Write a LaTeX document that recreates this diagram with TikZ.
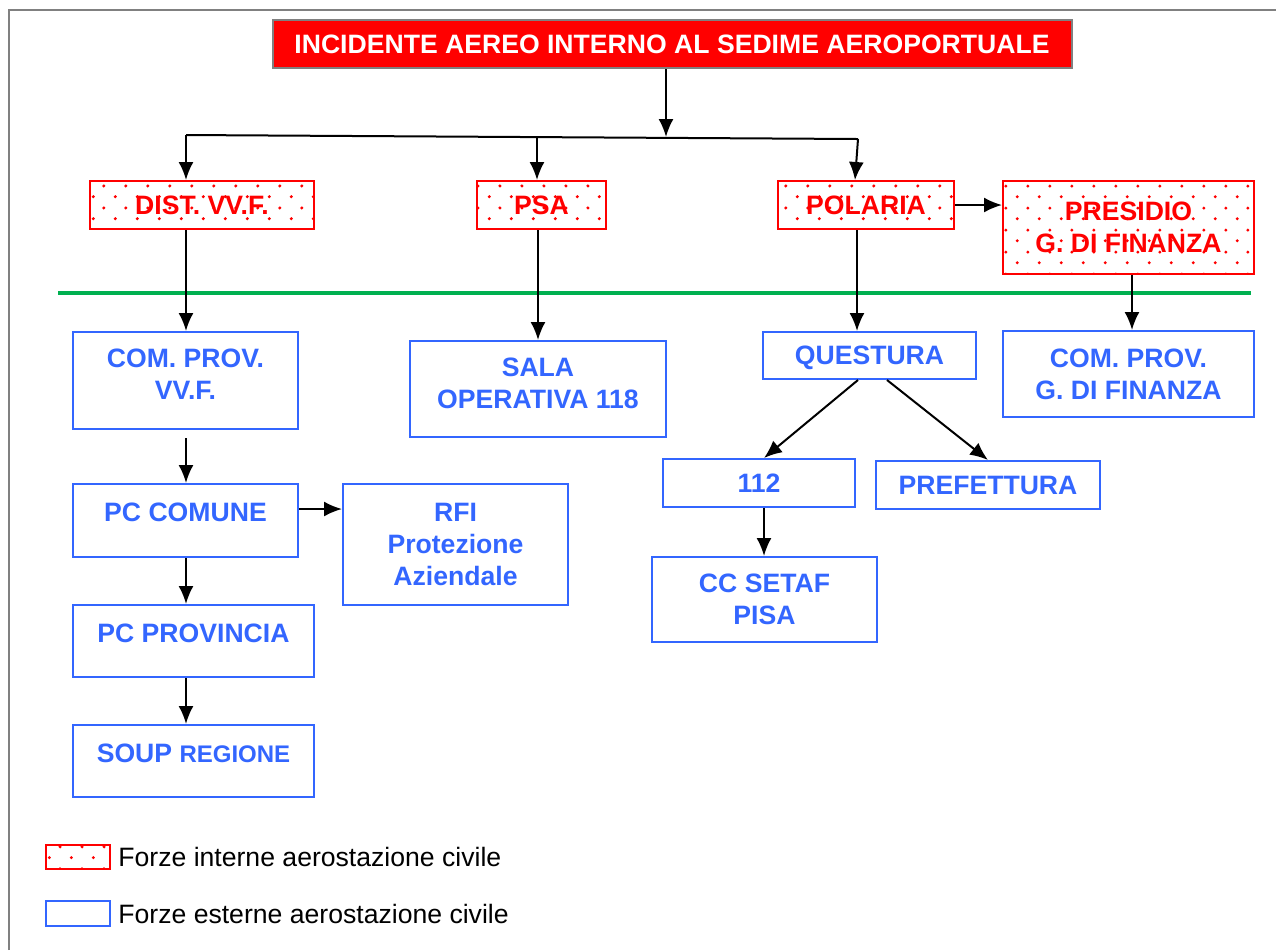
\documentclass[tikz,border=0pt]{standalone}
\usepackage{fontspec}
\setmainfont{Liberation Sans}
\usepackage{tikz}
\usetikzlibrary{arrows.meta, positioning, calc, patterns.meta}
\usepackage{xcolor}
\definecolor{AlarmRed}{HTML}{FF0000}
\definecolor{ExtBlue}{HTML}{3366FF}
\definecolor{LimitGreen}{HTML}{00B050}
\definecolor{FrameGray}{HTML}{808080}
\definecolor{ArrowBlack}{HTML}{000000}

% sparse red dots for the internal forces
\tikzdeclarepattern{
    name=redspots,
    type=uncolored,
    bottom left={(0pt,0pt)},
    top right={(11pt,11pt)},
    tile size={(11pt,11pt)},
    code={
        \pgfpathcircle{\pgfpoint{2.75pt}{2.75pt}}{0.85pt}
        \pgfpathcircle{\pgfpoint{8.25pt}{8.25pt}}{0.85pt}
        \pgfusepath{fill}
    }
}

\tikzset{
    % Node styles - all with sharp corners
    alarmbox/.style={
        rectangle,
        draw=FrameGray,
        fill=AlarmRed,
        line width=1pt,
        text=white,
        text centered,
        font=\fontsize{13.3}{16}\selectfont\bfseries
    },
    internbox/.style={
        rectangle,
        draw=AlarmRed,
        pattern=redspots,
        pattern color=AlarmRed,
        line width=1pt,
        text=AlarmRed,
        align=center,
        font=\fontsize{13.3}{16}\selectfont\bfseries
    },
    externbox/.style={
        rectangle,
        draw=ExtBlue,
        line width=1pt,
        text=ExtBlue,
        align=center,
        font=\fontsize{13.3}{16}\selectfont\bfseries
    },
    highbox/.style={
        externbox,
        text depth=8pt
    },
    legendtext/.style={
        anchor=west,
        inner sep=0pt,
        font=\fontsize{13.3}{16}\selectfont
    },
    % Arrow styles
    myarrow/.style={
        -{Latex[length=9pt,width=7.5pt]},
        line width=1pt,
        ArrowBlack
    },
    plainline/.style={
        line width=1pt,
        ArrowBlack
    },
    limitline/.style={
        line width=2pt,
        LimitGreen
    },
    frameline/.style={
        line width=1pt,
        FrameGray
    }
}

\begin{document}
\begin{tikzpicture}[x=0.5pt, y=-0.5pt]
    \useasboundingbox (0,0) rectangle (1276,950);
    \draw[frameline] (9,950) -- (9,10) -- (1276,10);

    \node[alarmbox, minimum width=399.5pt, minimum height=24pt] (title) at (672,44) {INCIDENTE AEREO INTERNO AL SEDIME AEROPORTUALE};

    \node[internbox, minimum width=112pt, minimum height=24pt] (dist) at (202,205) {DIST. VV.F.};
    \node[internbox, minimum width=64.5pt, minimum height=24pt] (psa) at (541.5,205) {PSA};
    \node[internbox, minimum width=88pt, minimum height=24pt] (polaria) at (866,205) {POLARIA};
    \node[internbox, minimum width=125.5pt, minimum height=46.5pt] (presidio) at (1128.5,227.5) {PRESIDIO\\G. DI FINANZA};

    \draw[limitline] (58,293) -- (1251,293);

    \node[externbox, minimum width=112.5pt, minimum height=48.5pt, text depth=6pt] (comvvf) at (185.5,380.5) {COM. PROV.\\VV.F.};
    \node[externbox, minimum width=128pt, minimum height=48pt, text depth=6pt] (sala) at (538,389) {SALA\\OPERATIVA 118};
    \node[externbox, minimum width=106.5pt, minimum height=23.5pt, text depth=0pt] (questura) at (869.5,355.5) {QUESTURA};
    \node[externbox, minimum width=125.5pt, minimum height=43pt] (comgdf) at (1128.5,374) {COM. PROV.\\G. DI FINANZA};

    \node[highbox, minimum width=112.5pt, minimum height=36.5pt] (pccomune) at (185.5,520.5) {PC COMUNE};
    \node[externbox, minimum width=112.5pt, minimum height=60.5pt] (rfi) at (455.5,544.5) {RFI\\Protezione\\Aziendale};
    \node[highbox, minimum width=120.5pt, minimum height=36pt] (pcprov) at (193.5,641) {PC PROVINCIA};
    \node[highbox, minimum width=120.5pt, minimum height=36pt] (soup) at (193.5,761) {SOUP {\fontsize{12}{14}\selectfont REGIONE}};

    \node[externbox, minimum width=96pt, minimum height=24pt] (n112) at (759,483) {112};
    \node[externbox, minimum width=112pt, minimum height=24pt] (pref) at (988,485) {PREFETTURA};
    \node[externbox, minimum width=112.5pt, minimum height=42.5pt] (setaf) at (764.5,599.5) {CC SETAF\\PISA};

    % distribution bar under the alarm
    \coordinate (barL) at (186,135);
    \coordinate (barP) at (537,136.5);
    \coordinate (barM) at (666,137);
    \coordinate (barR) at (858,139);
    \coordinate (colA) at (186,0);
    \coordinate (colB) at (538,0);
    \coordinate (colC) at (857,0);
    \coordinate (colD) at (1132,0);

    \draw[myarrow] (title.south -| barM) -- (barM);
    \draw[plainline] (barL) -- (barR);
    \draw[myarrow] (barL) -- (barL |- dist.north);
    \draw[myarrow] (barP) -- (barP |- psa.north);
    \draw[myarrow] (barR) -- ([xshift=-1.5pt]barR |- polaria.north);

    \draw[myarrow] (polaria.east) -- (presidio.west |- polaria.east);
    \draw[myarrow] (colA |- dist.south) -- (colA |- comvvf.north);
    \draw[myarrow] (colB |- psa.south) -- (colB |- sala.north);
    \draw[myarrow] (colC |- polaria.south) -- (colC |- questura.north);
    \draw[myarrow] (colD |- presidio.south) -- (colD |- comgdf.north);

    \draw[myarrow, shorten <=4pt] (colA |- comvvf.south) -- (colA |- pccomune.north);
    \draw[myarrow] ([yshift=5.75pt]pccomune.east) -- ([yshift=5.75pt]pccomune.east -| rfi.west);
    \draw[myarrow] (colA |- pccomune.south) -- (colA |- pcprov.north);
    \draw[myarrow] (colA |- pcprov.south) -- (colA |- soup.north);

    \draw[myarrow] ([xshift=-5.75pt]questura.south) -- ([xshift=2.5pt]n112.north);
    \draw[myarrow] ([xshift=8.75pt]questura.south) -- (pref.north);
    \draw[myarrow] ([xshift=2.5pt]n112.south) -- ([xshift=2.5pt]n112.south |- setaf.north);

    % legend
    \node[internbox, minimum width=32pt, minimum height=12pt, inner sep=0pt] (keyin) at (78,857) {};
    \node[legendtext] (keyintext) at (118,857) {Forze interne aerostazione civile};
    \node[externbox, minimum width=32pt, minimum height=12.5pt, inner sep=0pt] (keyout) at (78,913.5) {};
    \node[legendtext] (keyouttext) at (118,913.5) {Forze esterne aerostazione civile};
\end{tikzpicture}
\end{document}
